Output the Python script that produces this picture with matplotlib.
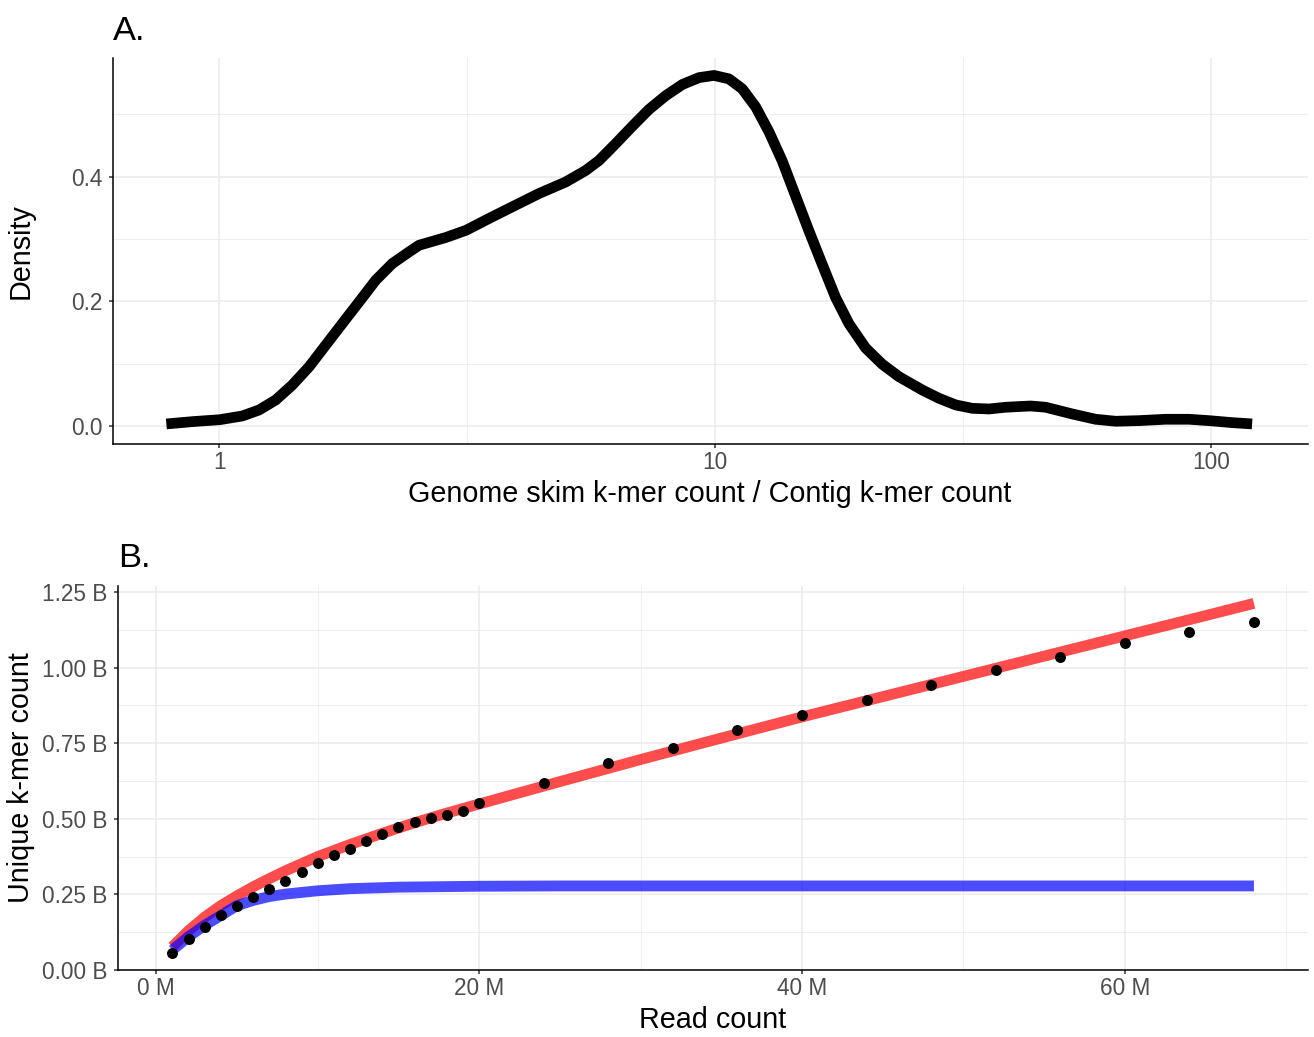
"""Two-panel figure: k-mer count ratio density (A) and k-mer saturation curves (B)."""

import matplotlib

matplotlib.use("Agg")
import matplotlib.pyplot as plt

plt.rcParams["font.family"] = ["Liberation Sans", "DejaVu Sans"]

# Panel A: density of genome-skim / contig k-mer count ratio (log x)
RATIO = [0.7828, 0.8835, 1.003, 1.114, 1.204, 1.301, 1.405, 1.519, 1.641, 1.773,
         1.916, 2.070, 2.236, 2.416, 2.531, 2.865, 3.148, 3.503, 3.896, 4.418,
         5.000, 5.487, 5.836, 6.306, 6.813, 7.362, 7.955, 8.595, 9.284, 9.954,
         10.67, 11.35, 12.08, 12.85, 13.67, 14.54, 15.47, 16.46, 17.51, 18.63,
         20.13, 21.75, 23.50, 26.18, 28.29, 30.58, 33.02, 35.68, 38.57, 43.30,
         46.42, 52.53, 58.55, 64.27, 71.58, 81.02, 90.30, 99.08, 110.4, 121.1]
DENSITY = [0.0032, 0.0069, 0.010, 0.016, 0.0256, 0.0417, 0.0657, 0.095, 0.1298, 0.1646,
           0.1992, 0.234, 0.2607, 0.2793, 0.290, 0.3024, 0.314, 0.333, 0.3514, 0.373,
           0.3915, 0.410, 0.426, 0.453, 0.481, 0.508, 0.530, 0.548, 0.559, 0.5625,
           0.557, 0.541, 0.512, 0.472, 0.425, 0.369, 0.313, 0.259, 0.206, 0.164,
           0.125, 0.099, 0.079, 0.0577, 0.0444, 0.0337, 0.0283, 0.0272, 0.030, 0.032,
           0.030, 0.0192, 0.0107, 0.0075, 0.0085, 0.0107, 0.0107, 0.0085, 0.0053, 0.0032]
A_XTICKS = [1, 10, 100]
A_YTICKS = [0.0, 0.2, 0.4]

# Panel B: unique k-mers (billions) vs reads (millions)
READS = list(range(1, 21)) + [24, 28, 32, 36, 40, 44, 48, 52, 56, 60, 64, 68]
KMERS = [0.056, 0.1025, 0.143, 0.181, 0.213, 0.242, 0.269, 0.293, 0.325, 0.355,
         0.379, 0.401, 0.428, 0.451, 0.474, 0.488, 0.503, 0.514, 0.527, 0.551,
         0.620, 0.686, 0.734, 0.795, 0.843, 0.893, 0.942, 0.992, 1.034, 1.080,
         1.117, 1.152]

FIT_X = [1, 2, 3, 4, 5, 6, 7, 8, 10, 12, 14, 16, 18, 20, 25, 30, 35, 40, 45,
         50, 55, 60, 65, 68]
FIT_RED = [0.077, 0.13, 0.175, 0.213, 0.245, 0.275, 0.302, 0.328, 0.375, 0.415,
           0.452, 0.487, 0.519, 0.549, 0.623, 0.696, 0.767, 0.837, 0.904, 0.971,
           1.038, 1.105, 1.172, 1.2125]
SAT_X = [1, 2, 3, 4, 5, 6, 7, 8, 10, 12, 15, 20, 25, 30, 40, 50, 60, 68]
SAT_BLUE = [0.066, 0.11, 0.148, 0.18, 0.213, 0.23, 0.243, 0.251, 0.262, 0.269,
            0.274, 0.277, 0.278, 0.278, 0.278, 0.278, 0.278, 0.278]
B_XTICKS = [0, 20, 40, 60]
B_YTICKS = [0.0, 0.25, 0.5, 0.75, 1.0, 1.25]

W, H = 1314, 1037
GRID = "#EBEBEB"


def style_axes(ax):
    for side in ("top", "right"):
        ax.spines[side].set_visible(False)
    for side in ("left", "bottom"):
        ax.spines[side].set_color("black")
        ax.spines[side].set_linewidth(1.1)
    ax.tick_params(which="major", length=3.2, width=1.1, color="#333333",
                   labelcolor="#4D4D4D", labelsize=16.3)
    ax.tick_params(axis="x", which="major", pad=2)
    ax.tick_params(axis="y", which="major", pad=4.5)
    ax.tick_params(which="minor", length=0)
    ax.grid(which="major", color=GRID, linewidth=1.1, zorder=0)
    ax.grid(which="minor", color=GRID, linewidth=0.6, zorder=0)
    ax.set_axisbelow(True)


fig = plt.figure(figsize=(W / 100, H / 100), dpi=100)

# ---- Panel A
axA = fig.add_axes([113 / W, 1 - 444 / H, (1308 - 113) / W, (444 - 58.3) / H])
axA.plot(RATIO, DENSITY, color="black", linewidth=7.7, solid_capstyle="butt",
         solid_joinstyle="round", zorder=3)
axA.set_xscale("log")
axA.set_xlim(0.611, 157)
axA.set_ylim(-0.029, 0.590)
axA.set_xticks(A_XTICKS)
axA.set_xticklabels([str(v) for v in A_XTICKS])
axA.set_xticks([10 ** 0.5, 10 ** 1.5], minor=True)
axA.set_xticklabels([], minor=True)
axA.set_yticks(A_YTICKS)
axA.set_yticklabels([f"{v:.1f}" for v in A_YTICKS])
axA.set_yticks([0.1, 0.3, 0.5], minor=True)
style_axes(axA)

fig.text(113 / W, 1 - 40 / H, "A.", ha="left", va="baseline", fontsize=24.8)
fig.text(710 / W, 1 - 502 / H, "Genome skim k-mer count / Contig k-mer count",
         ha="center", va="baseline", fontsize=20.7)
fig.text(21 / W, 1 - 251 / H, "Density", rotation=90, ha="center", va="center",
         fontsize=20.7)

# ---- Panel B
axB = fig.add_axes([118.3 / W, 1 - 970 / H, (1308 - 118.3) / W, (970 - 586) / H])
axB.plot(FIT_X, FIT_RED, color="red", alpha=0.7, linewidth=7.8,
         solid_capstyle="butt", solid_joinstyle="round", zorder=3)
axB.plot(SAT_X, SAT_BLUE, color="blue", alpha=0.7, linewidth=7.8,
         solid_capstyle="butt", solid_joinstyle="round", zorder=4)
axB.plot(READS, KMERS, linestyle="none", marker="o", markersize=7.9,
         markerfacecolor="black", markeredgewidth=0, zorder=5)
axB.set_xlim(-2.35, 71.35)
axB.set_ylim(0, 1.27)
axB.set_xticks(B_XTICKS)
axB.set_xticklabels([f"{v} M" for v in B_XTICKS])
axB.set_xticks([10, 30, 50, 70], minor=True)
axB.set_yticks(B_YTICKS)
axB.set_yticklabels([f"{v:.2f} B" for v in B_YTICKS])
axB.set_yticks([0.125, 0.375, 0.625, 0.875, 1.125], minor=True)
style_axes(axB)

fig.text(118 / W, 1 - 566.7 / H, "B.", ha="left", va="baseline", fontsize=24.8)
fig.text(713 / W, 1 - 1028 / H, "Read count", ha="center", va="baseline",
         fontsize=20.7)
fig.text(21 / W, 1 - 778 / H, "Unique k-mer count", rotation=90, ha="center",
         va="center", fontsize=20.7)

fig.savefig("out.png", dpi=100)
plt.close(fig)
